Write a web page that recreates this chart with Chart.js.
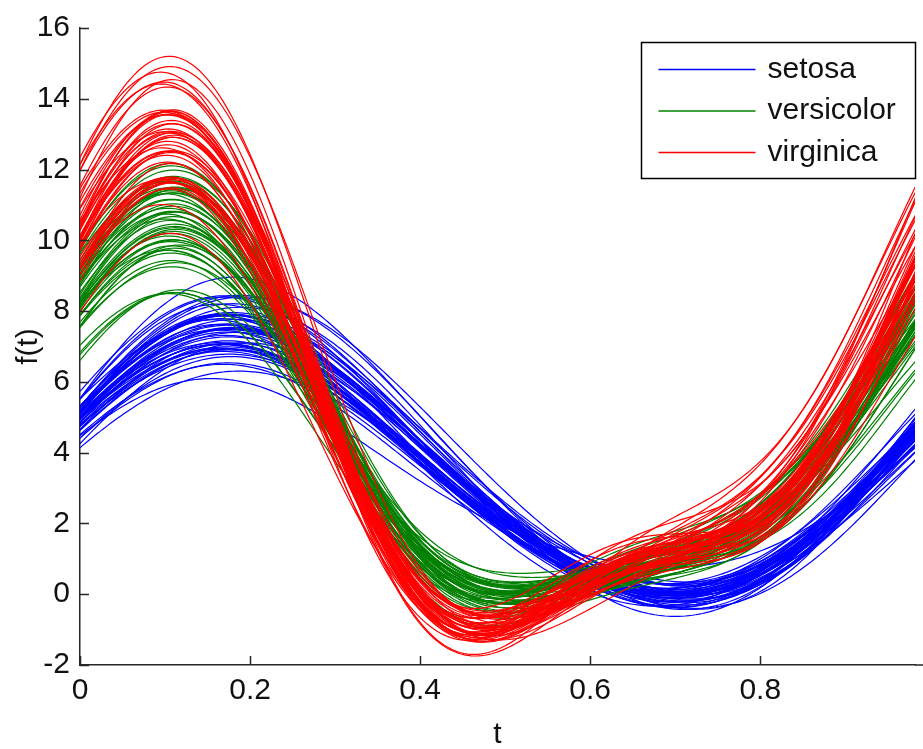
<!DOCTYPE html>
<html>
<head>
<meta charset="utf-8">
<script src="https://cdn.jsdelivr.net/npm/chart.js@4.4.1/dist/chart.umd.min.js"></script>
<style>
  html, body { margin: 0; padding: 0; background: #fff; }
</style>
</head>
<body>
<canvas id="andrews" width="923" height="749"></canvas>
<script>
// iris measurements: sepal length, sepal width, petal length, petal width
var setosa = [
  [5.1,3.5,1.4,0.2],[4.9,3.0,1.4,0.2],[4.7,3.2,1.3,0.2],[4.6,3.1,1.5,0.2],[5.0,3.6,1.4,0.2],
  [5.4,3.9,1.7,0.4],[4.6,3.4,1.4,0.3],[5.0,3.4,1.5,0.2],[4.4,2.9,1.4,0.2],[4.9,3.1,1.5,0.1],
  [5.4,3.7,1.5,0.2],[4.8,3.4,1.6,0.2],[4.8,3.0,1.4,0.1],[4.3,3.0,1.1,0.1],[5.8,4.0,1.2,0.2],
  [5.7,4.4,1.5,0.4],[5.4,3.9,1.3,0.4],[5.1,3.5,1.4,0.3],[5.7,3.8,1.7,0.3],[5.1,3.8,1.5,0.3],
  [5.4,3.4,1.7,0.2],[5.1,3.7,1.5,0.4],[4.6,3.6,1.0,0.2],[5.1,3.3,1.7,0.5],[4.8,3.4,1.9,0.2],
  [5.0,3.0,1.6,0.2],[5.0,3.4,1.6,0.4],[5.2,3.5,1.5,0.2],[5.2,3.4,1.4,0.2],[4.7,3.2,1.6,0.2],
  [4.8,3.1,1.6,0.2],[5.4,3.4,1.5,0.4],[5.2,4.1,1.5,0.1],[5.5,4.2,1.4,0.2],[4.9,3.1,1.5,0.2],
  [5.0,3.2,1.2,0.2],[5.5,3.5,1.3,0.2],[4.9,3.6,1.4,0.1],[4.4,3.0,1.3,0.2],[5.1,3.4,1.5,0.2],
  [5.0,3.5,1.3,0.3],[4.5,2.3,1.3,0.3],[4.4,3.2,1.3,0.2],[5.0,3.5,1.6,0.6],[5.1,3.8,1.9,0.4],
  [4.8,3.0,1.4,0.3],[5.1,3.8,1.6,0.2],[4.6,3.2,1.4,0.2],[5.3,3.7,1.5,0.2],[5.0,3.3,1.4,0.2]
];
var versicolor = [
  [7.0,3.2,4.7,1.4],[6.4,3.2,4.5,1.5],[6.9,3.1,4.9,1.5],[5.5,2.3,4.0,1.3],[6.5,2.8,4.6,1.5],
  [5.7,2.8,4.5,1.3],[6.3,3.3,4.7,1.6],[4.9,2.4,3.3,1.0],[6.6,2.9,4.6,1.3],[5.2,2.7,3.9,1.4],
  [5.0,2.0,3.5,1.0],[5.9,3.0,4.2,1.5],[6.0,2.2,4.0,1.0],[6.1,2.9,4.7,1.4],[5.6,2.9,3.6,1.3],
  [6.7,3.1,4.4,1.4],[5.6,3.0,4.5,1.5],[5.8,2.7,4.1,1.0],[6.2,2.2,4.5,1.5],[5.6,2.5,3.9,1.1],
  [5.9,3.2,4.8,1.8],[6.1,2.8,4.0,1.3],[6.3,2.5,4.9,1.5],[6.1,2.8,4.7,1.2],[6.4,2.9,4.3,1.3],
  [6.6,3.0,4.4,1.4],[6.8,2.8,4.8,1.4],[6.7,3.0,5.0,1.7],[6.0,2.9,4.5,1.5],[5.7,2.6,3.5,1.0],
  [5.5,2.4,3.8,1.1],[5.5,2.4,3.7,1.0],[5.8,2.7,3.9,1.2],[6.0,2.7,5.1,1.6],[5.4,3.0,4.5,1.5],
  [6.0,3.4,4.5,1.6],[6.7,3.1,4.7,1.5],[6.3,2.3,4.4,1.3],[5.6,3.0,4.1,1.3],[5.5,2.5,4.0,1.3],
  [5.5,2.6,4.4,1.2],[6.1,3.0,4.6,1.4],[5.8,2.6,4.0,1.2],[5.0,2.3,3.3,1.0],[5.6,2.7,4.2,1.3],
  [5.7,3.0,4.2,1.2],[5.7,2.9,4.2,1.3],[6.2,2.9,4.3,1.3],[5.1,2.5,3.0,1.1],[5.7,2.8,4.1,1.3]
];
var virginica = [
  [6.3,3.3,6.0,2.5],[5.8,2.7,5.1,1.9],[7.1,3.0,5.9,2.1],[6.3,2.9,5.6,1.8],[6.5,3.0,5.8,2.2],
  [7.6,3.0,6.6,2.1],[4.9,2.5,4.5,1.7],[7.3,2.9,6.3,1.8],[6.7,2.5,5.8,1.8],[7.2,3.6,6.1,2.5],
  [6.5,3.2,5.1,2.0],[6.4,2.7,5.3,1.9],[6.8,3.0,5.5,2.1],[5.7,2.5,5.0,2.0],[5.8,2.8,5.1,2.4],
  [6.4,3.2,5.3,2.3],[6.5,3.0,5.5,1.8],[7.7,3.8,6.7,2.2],[7.7,2.6,6.9,2.3],[6.0,2.2,5.0,1.5],
  [6.9,3.2,5.7,2.3],[5.6,2.8,4.9,2.0],[7.7,2.8,6.7,2.0],[6.3,2.7,4.9,1.8],[6.7,3.3,5.7,2.1],
  [7.2,3.2,6.0,1.8],[6.2,2.8,4.8,1.8],[6.1,3.0,4.9,1.8],[6.4,2.8,5.6,2.1],[7.2,3.0,5.8,1.6],
  [7.4,2.8,6.1,1.9],[7.9,3.8,6.4,2.0],[6.4,2.8,5.6,2.2],[6.3,2.8,5.1,1.5],[6.1,2.6,5.6,1.4],
  [7.7,3.0,6.1,2.3],[6.3,3.4,5.6,2.4],[6.4,3.1,5.5,1.8],[6.0,3.0,4.8,1.8],[6.9,3.1,5.4,2.1],
  [6.7,3.1,5.6,2.4],[6.9,3.1,5.1,2.3],[5.8,2.7,5.1,1.9],[6.8,3.2,5.9,2.3],[6.7,3.3,5.7,2.5],
  [6.7,3.0,5.2,2.3],[6.3,2.5,5.0,1.9],[6.5,3.0,5.2,2.0],[6.2,3.4,5.4,2.3],[5.9,3.0,5.1,1.8]
];
var speciesNames = ['setosa', 'versicolor', 'virginica'];
var speciesRows = [setosa, versicolor, virginica];
var speciesColors = ['#0000ff', '#008000', '#ff0000'];
var xTicks = [0, 0.2, 0.4, 0.6, 0.8];
var yTicks = [-2, 0, 2, 4, 6, 8, 10, 12, 14, 16];

var FONT = '"Liberation Sans", Arial, sans-serif';
var AXIS_COLOR = '#262626';

// andrews curve: x1/sqrt(2) + x2 sin(2pi t) + x3 cos(2pi t) + x4 sin(4pi t)
function andrews(row) {
    var pts = [];
    for (var i = 0; i <= 250; i++) {
        var t = i / 250;
        var w = 2 * Math.PI * t;
        pts.push({
            x: t,
            y: row[0] / Math.SQRT2 + row[1] * Math.sin(w) + row[2] * Math.cos(w) + row[3] * Math.sin(2 * w)
        });
    }
    return pts;
}

var datasets = [];
speciesRows.forEach(function (rows, s) {
    rows.forEach(function (row) {
        datasets.push({
            label: speciesNames[s],
            data: andrews(row),
            borderColor: speciesColors[s],
            borderWidth: 1.2,
            pointRadius: 0,
            tension: 0,
            fill: false,
            order: speciesRows.length - 1 - s
        });
    });
});

// matlab style ticks inside the axes + boxed legend
var matlabLook = {
    id: 'matlabLook',
    afterDraw: function (chart) {
        var ctx = chart.ctx;
        var a = chart.chartArea;
        var xs = chart.scales.x;
        var ys = chart.scales.y;
        ctx.save();
        ctx.strokeStyle = AXIS_COLOR;
        ctx.lineWidth = 1.5;
        ctx.beginPath();
        ctx.moveTo(a.right, a.bottom);
        ctx.lineTo(chart.width, a.bottom);
        xTicks.forEach(function (v) {
            var px = Math.round(xs.getPixelForValue(v)) + 0.5;
            ctx.moveTo(px, a.bottom);
            ctx.lineTo(px, a.bottom - 9);
        });
        yTicks.forEach(function (v) {
            var py = Math.round(ys.getPixelForValue(v)) + 0.5;
            ctx.moveTo(a.left, py);
            ctx.lineTo(a.left + 9, py);
        });
        ctx.stroke();

        var bw = 274, bh = 136;
        var bx = a.right - bw + 0.5, by = Math.round(a.top) + 14 + 0.5;
        ctx.fillStyle = '#fff';
        ctx.fillRect(bx, by, bw, bh);
        ctx.strokeStyle = '#000';
        ctx.lineWidth = 1.5;
        ctx.strokeRect(bx, by, bw, bh);
        ctx.font = '30px ' + FONT;
        ctx.textBaseline = 'middle';
        ctx.textAlign = 'left';
        speciesNames.forEach(function (name, i) {
            var ly = by + 27 + i * 41.5;
            ctx.strokeStyle = speciesColors[i];
            ctx.lineWidth = 1.5;
            ctx.beginPath();
            ctx.moveTo(bx + 17, ly);
            ctx.lineTo(bx + 114, ly);
            ctx.stroke();
            ctx.fillStyle = '#111';
            ctx.fillText(name, bx + 126, ly);
        });
        ctx.restore();
    }
};

new Chart(document.getElementById('andrews'), {
    type: 'line',
    data: { datasets: datasets },
    plugins: [matlabLook],
    options: {
        responsive: false,
        animation: false,
        devicePixelRatio: 1,
        layout: { padding: { top: 24, right: 8, left: 0, bottom: 0 } },
        plugins: {
            legend: { display: false },
            tooltip: { enabled: false }
        },
        scales: {
            x: {
                type: 'linear',
                min: 0,
                max: 0.982,
                afterBuildTicks: function (scale) {
                    scale.ticks = xTicks.map(function (v) { return { value: v }; });
                },
                afterFit: function (scale) { scale.height = 84; },
                grid: { display: false, drawTicks: false },
                border: { display: true, color: AXIS_COLOR, width: 1.5 },
                ticks: {
                    padding: 8,
                    color: '#111',
                    font: { family: FONT, size: 30 },
                    maxRotation: 0,
                    callback: function (v) { return String(v); }
                },
                title: {
                    display: true,
                    text: 't',
                    color: '#111',
                    font: { family: FONT, size: 30 },
                    padding: { top: 0, bottom: -4 }
                }
            },
            y: {
                type: 'linear',
                min: -2,
                max: 16,
                afterBuildTicks: function (scale) {
                    scale.ticks = yTicks.map(function (v) { return { value: v }; });
                },
                afterFit: function (scale) { scale.width = 80; },
                grid: { display: false, drawTicks: false },
                border: { display: true, color: AXIS_COLOR, width: 1.5 },
                ticks: {
                    padding: 10,
                    color: '#111',
                    font: { family: FONT, size: 30 },
                    callback: function (v) { return String(v); }
                },
                title: {
                    display: true,
                    text: 'f(t)',
                    color: '#111',
                    font: { family: FONT, size: 30 },
                    padding: { top: 11, bottom: 0 }
                }
            }
        }
    }
});
</script>
</body>
</html>
